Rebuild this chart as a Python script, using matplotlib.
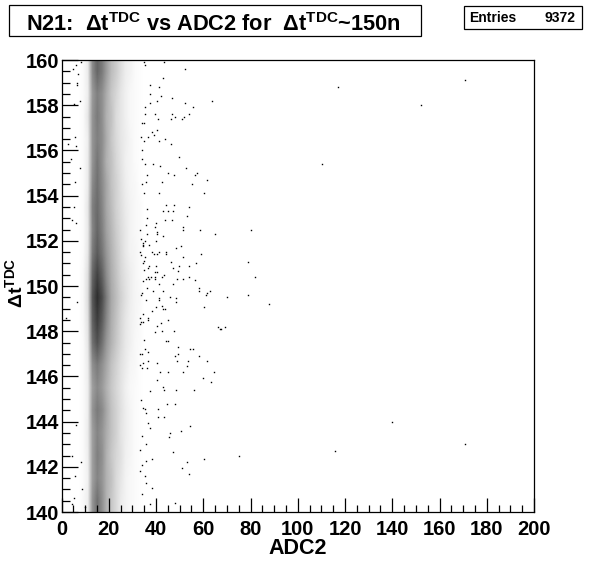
import numpy as np
import matplotlib
matplotlib.use('Agg')
import matplotlib.pyplot as plt
from matplotlib.patches import Rectangle
from matplotlib.ticker import MultipleLocator

# share of black pixels in the dense band
# columns are 2 wide, centred on band_adc; rows are 1 tall, top row first
band_adc = [9, 11, 13, 15, 17, 19, 21, 23, 25, 27, 29, 31, 33]
band_dt = [159.5, 158.5, 157.5, 156.5, 155.5, 154.5, 153.5, 152.5, 151.5, 150.5,
           149.5, 148.5, 147.5, 146.5, 145.5, 144.5, 143.5, 142.5, 141.5, 140.5]
band_share = [
    [.02, .08, .46, .60, .52, .38, .26, .20, .13, .07, .05, .02, .01],
    [.02, .07, .40, .50, .44, .32, .22, .16, .10, .06, .03, .02, .01],
    [.02, .10, .42, .52, .44, .30, .24, .14, .10, .06, .03, .02, .01],
    [.02, .07, .42, .50, .45, .32, .22, .15, .10, .07, .04, .02, .01],
    [.02, .08, .42, .54, .44, .30, .24, .16, .11, .06, .04, .02, .01],
    [.02, .08, .46, .56, .46, .34, .24, .18, .12, .07, .04, .03, .01],
    [.02, .10, .50, .58, .48, .34, .26, .18, .13, .08, .05, .03, .02],
    [.02, .09, .48, .60, .50, .36, .28, .20, .14, .09, .05, .03, .02],
    [.02, .10, .52, .64, .54, .40, .30, .22, .15, .09, .05, .04, .02],
    [.03, .13, .60, .74, .62, .44, .32, .24, .16, .11, .07, .04, .02],
    [.03, .14, .66, .82, .70, .50, .34, .26, .18, .12, .07, .04, .03],
    [.03, .12, .62, .76, .64, .46, .32, .24, .16, .10, .06, .04, .02],
    [.02, .10, .56, .68, .56, .40, .30, .22, .15, .09, .06, .03, .02],
    [.02, .08, .44, .52, .44, .34, .24, .18, .12, .08, .04, .03, .01],
    [.02, .07, .38, .46, .40, .30, .22, .16, .11, .06, .03, .02, .01],
    [.02, .07, .42, .52, .46, .34, .24, .18, .12, .07, .04, .02, .01],
    [.02, .08, .38, .48, .42, .32, .24, .18, .11, .07, .04, .02, .01],
    [.02, .07, .38, .50, .44, .30, .22, .16, .12, .06, .04, .02, .01],
    [.02, .06, .38, .48, .42, .30, .24, .15, .10, .05, .03, .02, .01],
    [.03, .07, .42, .56, .44, .30, .22, .15, .08, .05, .03, .02, .01],
]

# points that stand alone, outside the band
left_points = [
    (6.1, 159.8), (8.3, 159.9), (4.7, 159.6), (7.1, 159.4), (6.7, 159.0), (6.7, 158.9),
    (7.8, 158.2), (5.3, 158.05), (5.7, 156.6), (2.9, 156.3), (6.1, 156.2), (4.0, 155.6),
    (7.8, 155.2), (5.7, 154.6), (5.3, 153.5), (4.6, 152.9), (6.1, 152.8), (6.4, 149.3),
    (1.9, 148.6), (6.1, 143.85), (4.3, 142.5), (8.3, 142.2), (5.7, 141.6), (8.5, 141.0),
    (5.3, 140.6), (4.3, 140.35), (9.9, 140.2),
]
right_points = [
    (35.0, 159.9), (35.5, 159.8), (43.5, 159.9), (52.4, 159.6), (43.1, 159.2), (37.6, 158.9),
    (41.4, 158.8), (37.6, 158.5), (42.2, 158.4), (46.9, 158.3), (40.5, 158.2), (52.4, 158.1),
    (63.8, 158.2), (37.6, 158.1), (35.5, 157.9), (55.8, 157.9), (35.5, 157.6), (39.7, 157.6),
    (46.9, 157.6), (48.2, 157.5), (52.0, 157.5), (54.1, 157.6), (41.0, 157.4), (46.5, 157.4),
    (51.1, 157.4), (34.2, 157.2), (35.0, 157.2), (40.5, 156.9), (38.4, 156.8), (39.3, 156.7),
    (36.7, 156.6), (33.8, 156.6), (35.0, 156.4), (41.4, 156.4), (43.9, 156.5), (46.5, 156.3),
    (34.2, 156.0), (49.8, 155.7), (34.2, 155.6), (35.5, 155.4), (38.8, 155.4), (41.8, 155.3),
    (52.8, 155.2), (45.2, 155.0), (47.7, 154.9), (56.6, 154.9), (57.5, 155.0), (36.3, 154.9),
    (61.7, 154.7), (35.9, 154.6), (42.7, 154.6), (34.2, 154.5), (55.4, 154.5), (35.0, 154.1),
    (41.4, 154.1), (60.4, 154.1), (44.3, 153.6), (47.7, 153.6), (36.3, 153.4), (54.1, 153.5),
    (43.1, 153.3), (45.2, 153.3), (47.3, 153.3), (53.2, 153.1), (36.3, 153.0), (43.9, 152.9),
    (46.9, 152.9), (40.1, 152.8), (35.9, 152.7), (39.7, 152.6), (51.5, 152.6), (51.5, 152.5),
    (58.7, 152.5), (33.3, 152.5), (40.5, 152.4), (40.5, 152.3), (36.3, 152.3), (43.1, 152.2),
    (65.1, 152.3), (80.3, 152.5), (33.8, 152.1), (35.5, 152.0), (34.6, 151.9), (40.1, 152.0),
    (34.6, 151.8), (37.2, 151.8), (34.6, 151.75), (50.7, 151.75), (48.6, 151.7), (33.3, 151.5),
    (38.4, 151.5), (41.4, 151.5), (44.3, 151.5), (44.3, 151.4), (39.3, 151.4), (40.5, 151.4),
    (33.8, 151.35), (59.2, 151.4), (51.5, 151.3), (35.5, 151.3), (35.0, 151.1), (34.6, 151.0),
    (46.5, 151.05), (57.0, 151.0), (79.1, 151.05), (40.1, 150.9), (37.2, 150.9), (36.7, 150.8),
    (47.3, 150.8), (49.8, 150.9), (54.1, 150.9), (35.0, 150.7), (49.4, 150.65), (39.7, 150.6),
    (40.5, 150.6), (43.5, 150.5), (36.7, 150.4), (38.0, 150.4), (39.7, 150.4), (39.7, 150.3),
    (35.9, 150.3), (37.2, 150.3), (42.7, 150.4), (49.0, 150.3), (51.5, 150.3), (54.1, 150.4),
    (56.6, 150.25), (82.0, 150.4), (34.6, 150.2), (41.4, 150.1), (47.3, 150.1), (36.3, 149.9),
    (58.3, 149.9), (58.3, 149.8), (63.0, 149.8), (38.8, 149.8), (43.1, 149.8), (34.2, 149.7),
    (61.7, 149.7), (33.8, 149.6), (61.3, 149.6), (46.0, 149.5), (79.1, 149.6), (70.2, 149.5),
    (48.6, 149.45), (48.6, 149.3), (41.4, 149.45), (41.4, 149.4), (35.9, 149.4), (88.0, 149.2),
    (42.7, 149.1), (43.1, 149.0), (43.9, 149.0), (40.1, 149.05), (60.4, 149.05), (38.4, 148.9),
    (34.6, 148.75), (33.3, 148.6), (36.7, 148.6), (36.7, 148.5), (45.2, 148.5), (33.8, 148.4),
    (34.6, 148.4), (33.3, 148.3), (42.2, 148.35), (40.5, 148.25), (66.4, 148.2), (69.3, 148.2),
    (67.6, 148.1), (67.2, 148.1), (42.7, 148.0), (47.7, 148.0), (39.7, 147.95), (35.0, 147.6),
    (44.3, 147.55), (45.2, 147.55), (49.4, 147.3), (35.5, 147.2), (54.5, 147.2), (55.8, 147.2),
    (36.7, 147.1), (49.4, 147.0), (33.3, 147.0), (34.2, 147.0), (48.2, 146.9), (58.3, 146.9),
    (36.7, 146.7), (53.7, 146.7), (49.0, 146.7), (61.7, 146.7), (34.6, 146.6), (40.5, 146.6),
    (33.3, 146.5), (53.2, 146.45), (34.2, 146.35), (36.3, 146.35), (41.8, 146.2), (45.2, 146.2),
    (51.5, 146.2), (64.7, 146.2), (60.0, 145.95), (40.5, 145.85), (63.4, 145.75), (43.1, 145.55),
    (43.5, 145.4), (48.6, 145.4), (56.2, 145.4), (37.6, 145.35), (33.8, 144.95), (44.8, 144.8),
    (48.2, 144.8), (34.6, 144.6), (35.5, 144.55), (41.0, 144.55), (35.9, 144.4), (41.0, 144.2),
    (43.5, 144.2), (36.7, 143.95), (54.5, 143.8), (37.6, 143.7), (50.7, 143.6), (46.0, 143.5),
    (45.6, 143.3), (34.2, 143.35), (35.9, 143.0), (33.3, 142.75), (47.3, 142.65), (38.4, 142.35),
    (60.4, 142.35), (75.2, 142.5), (35.9, 142.25), (53.2, 142.2), (34.2, 142.1), (51.1, 141.95),
    (33.3, 141.8), (54.1, 141.7), (35.5, 141.6), (35.9, 141.3), (38.4, 141.05), (34.2, 140.8),
    (37.6, 140.35), (48.2, 140.4),
]
far_points = [(170.8, 159.1), (117.0, 158.8), (152.2, 158.0), (110.3, 155.4),
              (139.9, 144.0), (170.8, 143.0), (115.8, 142.7)]
entries = 9372

plt.rcParams['font.family'] = 'Liberation Sans'
plt.rcParams['font.weight'] = 'bold'
plt.rcParams['mathtext.fontset'] = 'custom'
plt.rcParams['mathtext.rm'] = 'Liberation Sans:bold'
plt.rcParams['mathtext.bf'] = 'Liberation Sans:bold'
plt.rcParams['mathtext.default'] = 'rm'

W, H = 596, 572
fig = plt.figure(figsize=(W/100, H/100), dpi=100)
ax = fig.add_axes([61.5/W, 1-512/H, 472.5/W, 452/H])

# empty column on each side so the shading fades out instead of stopping dead
share = np.pad(np.array(band_share), ((0, 0), (1, 1)))
extent = (band_adc[0]-3, band_adc[-1]+3, band_dt[-1]-0.5, band_dt[0]+0.5)
ax.imshow(share, extent=extent, aspect='auto', interpolation='bilinear', cmap='gray_r', vmin=0, vmax=1, zorder=1)
for pts in (left_points, right_points, far_points):
    xs, ys = np.array(pts).T
    ax.plot(xs, ys, ls='none', marker='s', ms=1.0, mew=0, color='k', zorder=2)

ax.set_xlim(0, 200)
ax.set_ylim(140, 160)
ax.xaxis.set_major_locator(MultipleLocator(20))
ax.xaxis.set_minor_locator(MultipleLocator(5))
ax.yaxis.set_major_locator(MultipleLocator(2))
ax.yaxis.set_minor_locator(MultipleLocator(0.5))
ax.tick_params(axis='x', which='major', direction='in', length=10, width=0.9, labelsize=14.5, pad=6)
ax.tick_params(axis='x', which='minor', direction='in', length=5, width=0.9)
ax.tick_params(axis='y', which='major', direction='in', length=11.5, width=0.9, labelsize=14.5, pad=1.5)
ax.tick_params(axis='y', which='minor', direction='in', length=5.8, width=0.9)
for s in ax.spines.values():
    s.set_linewidth(0.9)
ax.set_axisbelow(False)

fig.text(327/W, 1-549/H, 'ADC2', fontsize=15.5, ha='right', va='center')
fig.text(15/W, 1-308/H, r'$\Delta$t$^{\mathrm{TDC}}$', fontsize=14, rotation=90, ha='center', va='bottom')

# title and stats boxes sit outside the axes
fig.add_artist(Rectangle((8.5/W, 1-35.5/H), 412/W, 30/H, transform=fig.transFigure, fc='white', ec='k', lw=0.9))
fig.text(26/W, 1-31/H, r'N21:  $\Delta$t$^{\mathrm{TDC}}$ vs ADC2 for  $\Delta$t$^{\mathrm{TDC}}$~150n',
         fontsize=15.7, ha='left', va='baseline')
fig.add_artist(Rectangle((463.5/W, 1-28.5/H), 118/W, 23/H, transform=fig.transFigure, fc='white', ec='k', lw=0.9))
fig.text(469/W, 1-18.5/H, 'Entries', fontsize=10, ha='left', va='center')
fig.text(575/W, 1-18.5/H, str(entries), fontsize=10, ha='right', va='center')

fig.savefig('out.png', dpi=100)
